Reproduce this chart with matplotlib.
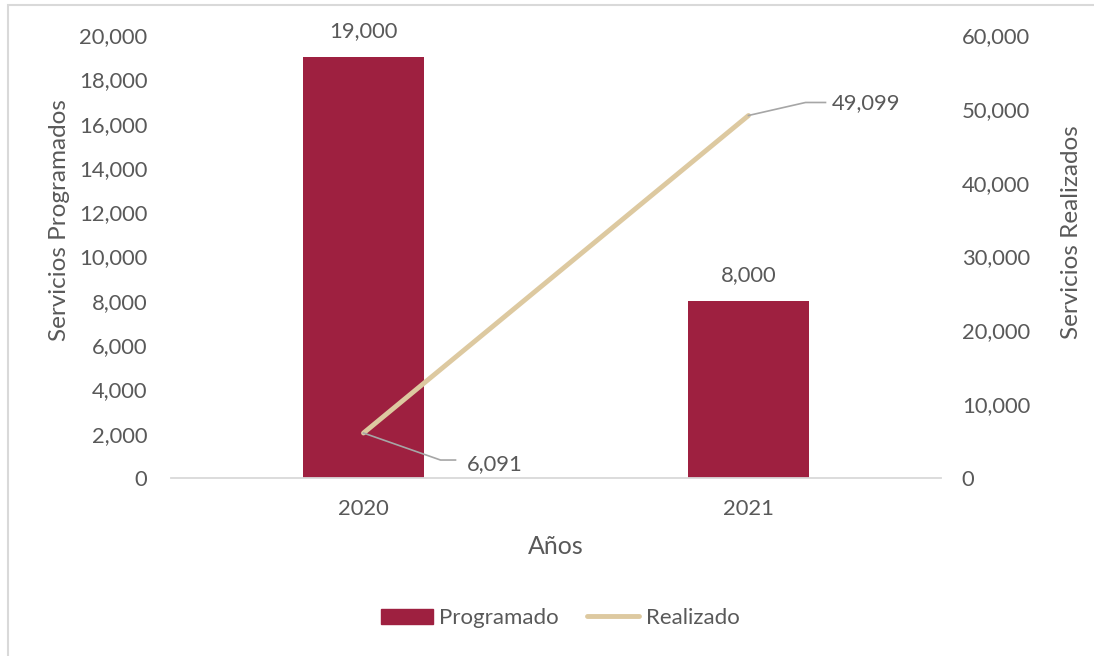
import matplotlib
matplotlib.use("Agg")
import matplotlib.pyplot as plt
import matplotlib.ticker as mticker
from matplotlib.lines import Line2D
from matplotlib.patches import Rectangle

# Datos
anios = ["2020", "2021"]
programado = [19000, 8000]
realizado = [6091, 49099]

color_barra = "#9E2040"
color_linea = "#DDC9A0"
color_texto = "#595959"
fuente = ["Lato", "DejaVu Sans"]

plt.rcParams["font.family"] = fuente
plt.rcParams["font.size"] = 15.8
plt.rcParams["text.color"] = color_texto

fig = plt.figure(figsize=(10.94, 6.56), dpi=100)
W, H = 1094, 656

# Marco del grafico (cortado a la derecha y abajo)
fig.add_artist(Rectangle((8 / W, -0.1), 1.2, (656 - 5) / H + 0.1, transform=fig.transFigure,
                         fill=False, edgecolor="#D9D9D9", linewidth=1.5))

ax = fig.add_axes([171 / W, (H - 478) / H, 770 / W, 443 / H])
ax2 = ax.twinx()

x = list(range(len(anios)))
ax.bar(x, programado, width=0.315, color=color_barra, zorder=2)
ax2.plot(x, realizado, color=color_linea, linewidth=3.5, solid_capstyle="round", zorder=3)

ax.set_xlim(-0.5, len(anios) - 0.5)
ax.set_ylim(0, 20000)
ax2.set_ylim(0, 60000)
ax.yaxis.set_major_locator(mticker.MultipleLocator(2000))
ax2.yaxis.set_major_locator(mticker.MultipleLocator(10000))
fmt = mticker.FuncFormatter(lambda v, p: f"{v:,.0f}")
ax.yaxis.set_major_formatter(fmt)
ax2.yaxis.set_major_formatter(fmt)
ax.set_xticks(x)
ax.set_xticklabels(anios)

for a in (ax, ax2):
    for s in a.spines.values():
        s.set_visible(False)
    a.tick_params(length=0, colors=color_texto, labelsize=15.8)
ax.tick_params(axis="y", pad=17)
ax2.tick_params(axis="y", pad=15)
ax.tick_params(axis="x", pad=15)
ax.spines["bottom"].set_visible(True)
ax.spines["bottom"].set_color("#D9D9D9")
ax.spines["bottom"].set_linewidth(1.3)

# Titulos de ejes
fig.text(60 / W, 1 - 220 / H, "Servicios Programados", rotation=90, ha="center", va="center", fontsize=17.5)
fig.text(1071 / W, 1 - 232 / H, "Servicios Realizados", rotation=90, ha="center", va="center", fontsize=17.5)
fig.text(556 / W, 1 - 547 / H, "Años", ha="center", va="center", fontsize=18)

# Etiquetas de las barras
for xi, v in zip(x, programado):
    ax.annotate(f"{v:,}", (xi, v), xytext=(0, 26), textcoords="offset pixels",
                ha="center", va="center")

# Etiquetas de la linea con lineas guia
fig.canvas.draw()
guias = [((77, -27), (92, -27), (131, -31)), ((57, 13), (77, 13), (118, 12))]
for xi, v, (p1, p2, t) in zip(x, realizado, guias):
    px, py = ax2.transData.transform((xi, v))
    fig.add_artist(Line2D([px, px + p1[0], px + p2[0]], [py, py + p1[1], py + p2[1]],
                          transform=None, color="#A6A6A6", linewidth=1.2))
    ax2.annotate(f"{v:,}", (xi, v), xytext=t, textcoords="offset pixels",
                 ha="center", va="center")

# Leyenda
handles = [Rectangle((0, 0), 1, 1, color=color_barra),
           Line2D([0], [0], color=color_linea, linewidth=3.5, solid_capstyle="round")]
fig.legend(handles, ["Programado", "Realizado"], loc="center", bbox_to_anchor=(560 / W, 1 - 618 / H),
           ncol=2, frameon=False, handlelength=2.34, handleheight=0.65, handletextpad=0.3,
           columnspacing=1.26, fontsize=16)

plt.savefig("out.png", dpi=100)
